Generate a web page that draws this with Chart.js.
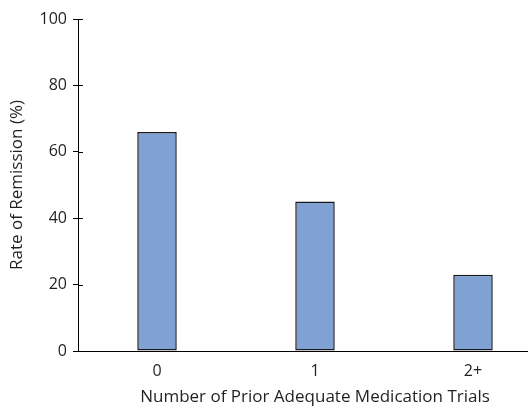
<!DOCTYPE html>
<html>
<head>
<meta charset="utf-8">
<script src="https://cdn.jsdelivr.net/npm/chart.js@4.4.1/dist/chart.umd.min.js"></script>
<style>
  html, body { margin: 0; padding: 0; background: #fff; overflow: hidden; }
  #wrap { position: absolute; left: 0; top: 0; width: 552px; height: 406px; }
</style>
</head>
<body>
<div id="wrap"><canvas id="remission"></canvas></div>
<script>
// prior adequate medication trials vs remission rate
var trials = ['0', '1', '2+'];
var remission = [66, 45, 23];
var yTicks = [0, 20, 40, 60, 80, 100];

// tick marks cross the y axis: draw the inner half here
var innerTicks = {
  id: 'innerTicks',
  afterDraw: function(chart) {
    var y = chart.scales.y;
    var c = chart.ctx;
    c.save();
    c.strokeStyle = '#000';
    c.lineWidth = 1;
    yTicks.forEach(function(v) {
      var py = Math.round(y.getPixelForValue(v)) + 0.5;
      c.beginPath();
      c.moveTo(y.right, py);
      c.lineTo(y.right + 5, py);
      c.stroke();
    });
    c.restore();
  }
};

var ctx = document.getElementById('remission');
var myChart = new Chart(ctx, {
  type: 'bar',
  data: {
    labels: trials,
    datasets: [{
      label: 'Rate of Remission',
      data: remission,
      backgroundColor: '#7fa1d3',
      borderColor: '#1a1a1a',
      borderWidth: 1.5,
      borderSkipped: false,
      categoryPercentage: 1,
      barPercentage: 0.25
    }]
  },
  options: {
    responsive: true,
    maintainAspectRatio: false,
    animation: false,
    layout: { padding: { top: 19, right: 0, bottom: 0, left: 0 } },
    plugins: {
      legend: { display: false },
      tooltip: { enabled: false }
    },
    scales: {
      x: {
        grid: { display: false },
        border: { display: true, color: '#000', width: 1 },
        ticks: {
          color: '#231f20',
          padding: 3,
          font: { family: 'Open Sans', size: 16 }
        },
        title: {
          display: true,
          text: 'Number of Prior Adequate Medication Trials',
          color: '#231f20',
          padding: { top: 0, bottom: -1 },
          font: { family: 'Open Sans', size: 17 }
        },
        afterFit: function(scale) { scale.height = 55; }
      },
      y: {
        min: 0,
        max: 100,
        afterBuildTicks: function(scale) {
          scale.ticks = yTicks.map(function(v) { return { value: v }; });
        },
        grid: { drawOnChartArea: false, tickLength: 5, color: '#000' },
        border: { display: true, color: '#000', width: 1 },
        ticks: {
          color: '#231f20',
          padding: 6,
          font: { family: 'Open Sans', size: 16 }
        },
        title: {
          display: true,
          text: 'Rate of Remission (%)',
          color: '#231f20',
          padding: { top: 7, bottom: 0 },
          font: { family: 'Open Sans', size: 17 }
        },
        afterFit: function(scale) { scale.width = 78; }
      }
    }
  },
  plugins: [innerTicks]
});
</script>
</body>
</html>
